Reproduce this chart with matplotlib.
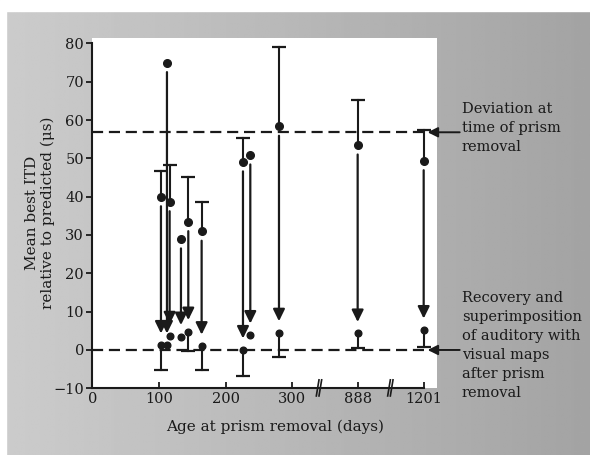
import matplotlib.pyplot as plt
import numpy as np

# ages at prism removal (days) and ITD values
ages = [103, 112, 116, 133, 144, 164, 226, 237, 280, 888, 1201]
initial = [40, 75, 38.7, 29, 33.5, 31, 49.1, 50.9, 58.4, 53.5, 49.4]
initial_upper = [46.8, np.nan, 48.3, np.nan, 45.2, 38.7, 55.4, np.nan, 79.1, 65.2, 57.4]
final = [1.3, 1.3, 3.7, 3.5, 4.8, 1.0, 0.0, 3.9, 4.5, 4.3, 5.2]
final_lower = [-5.2, np.nan, np.nan, np.nan, -0.3, -5.2, -6.8, np.nan, -1.9, 0.4, 0.9]

deviation = 56.8
recovery = 0

tick_ages = [0, 100, 200, 300, 888, 1201]
tick_labels = ['0', '100', '200', '300', '888', '1201']
# broken axis: after 300 the ticks are spaced evenly
tick_pos = [0, 100, 200, 300, 398, 497]
break_pos = [342, 449]

plt.rcParams['font.family'] = ['DejaVu Serif']
ink = '#1a1a1a'

fig = plt.figure(figsize=(5.9, 4.55), dpi=100)

# grey paper background, lighter on the left
bg = fig.add_axes([0, 0, 1, 1], zorder=-5)
grad = np.linspace(0.80, 0.64, 200)[None, :] * np.ones((50, 1))
bg.imshow(grad, cmap='gray', vmin=0, vmax=1, aspect='auto', extent=[0, 1, 0, 1])
bg.axhspan(0.975, 1.0, color='white')
bg.axvspan(0, 0.011, color='white')
bg.set_xlim(0, 1)
bg.set_ylim(0, 1)
bg.axis('off')

ax = fig.add_axes([0.1564, 0.1466, 0.5843, 0.7699])
ax.set_facecolor('white')

xpos = np.interp(ages, tick_ages, tick_pos)

dash = (0, (5, 2.6))
ax.axhline(deviation, color=ink, lw=1.6, ls=dash, zorder=1)
ax.axhline(recovery, color=ink, lw=1.6, ls=dash, zorder=1)

for i in range(len(ages)):
    x = xpos[i]
    # initial value, error bar upward only
    if not np.isnan(initial_upper[i]):
        ax.plot([x, x], [initial[i], initial_upper[i]], color=ink, lw=1.5, zorder=3)
        ax.plot(x, initial_upper[i], marker='_', ms=10, mew=1.6, color=ink, zorder=3)
    ax.plot(x, initial[i], 'o', color=ink, ms=5.5, zorder=4)
    # final value, error bar downward only
    if not np.isnan(final_lower[i]):
        ax.plot([x, x], [final[i], final_lower[i]], color=ink, lw=1.5, zorder=3)
        ax.plot(x, final_lower[i], marker='_', ms=10, mew=1.6, color=ink, zorder=3)
    ax.plot(x, final[i], 'o', color=ink, ms=4.8, zorder=4)
    ax.annotate('', xy=(x, final[i] + 3), xytext=(x, initial[i] - 2.5),
                arrowprops=dict(arrowstyle='-|>,head_length=0.55,head_width=0.27',
                                color=ink, lw=1.6, mutation_scale=13,
                                shrinkA=0, shrinkB=0), zorder=3)

ax.set_xlim(0, 517)
ax.set_ylim(-10, 81.4)
ax.set_xticks(tick_pos)
ax.set_xticklabels(tick_labels)
ax.set_yticks(np.arange(-10, 81, 10))

for s in ['top', 'right']:
    ax.spines[s].set_visible(False)
ax.spines['left'].set_bounds(-10, 80)
ax.spines['bottom'].set_bounds(0, 497)
for s in ['left', 'bottom']:
    ax.spines[s].set_linewidth(1.5)
    ax.spines[s].set_color(ink)

ax.tick_params(axis='y', direction='out', length=4, width=1.3, colors=ink, labelsize=10.5, pad=2)
ax.tick_params(axis='x', direction='in', length=4, width=1.3, colors=ink, labelsize=10.5, pad=3)

# axis break marks
for b in break_pos:
    for dx in (-4, 0):
        ax.plot([b + dx - 2, b + dx + 2], [-12, -7.8], color=ink, lw=1.2,
                clip_on=False, zorder=5)

ax.set_xlabel('Age at prism removal (days)', fontsize=11, color=ink)
ax.xaxis.set_label_coords(0.53, -0.088)
ax.set_ylabel('Mean best ITD\nrelative to predicted (\u03bcs)', fontsize=11,
              color=ink, labelpad=-1, linespacing=1.1)

# side annotations
arrow_style = dict(arrowstyle='-|>,head_length=0.6,head_width=0.3', color=ink, lw=1.4,
                   mutation_scale=10, shrinkA=0, shrinkB=0)
ax.annotate('', xy=(503, deviation), xytext=(551, deviation),
            annotation_clip=False, arrowprops=arrow_style)
ax.annotate('', xy=(503, recovery), xytext=(551, recovery),
            annotation_clip=False, arrowprops=arrow_style)
ax.text(554, 57.9, 'Deviation at\ntime of prism\nremoval', fontsize=10.5, color=ink,
        ha='left', va='center', linespacing=1.45, clip_on=False)
ax.text(554, 1.2, 'Recovery and\nsuperimposition\nof auditory with\nvisual maps\nafter prism\nremoval',
        fontsize=10.5, color=ink, ha='left', va='center', linespacing=1.45, clip_on=False)

fig.savefig('out.png', dpi=100)
